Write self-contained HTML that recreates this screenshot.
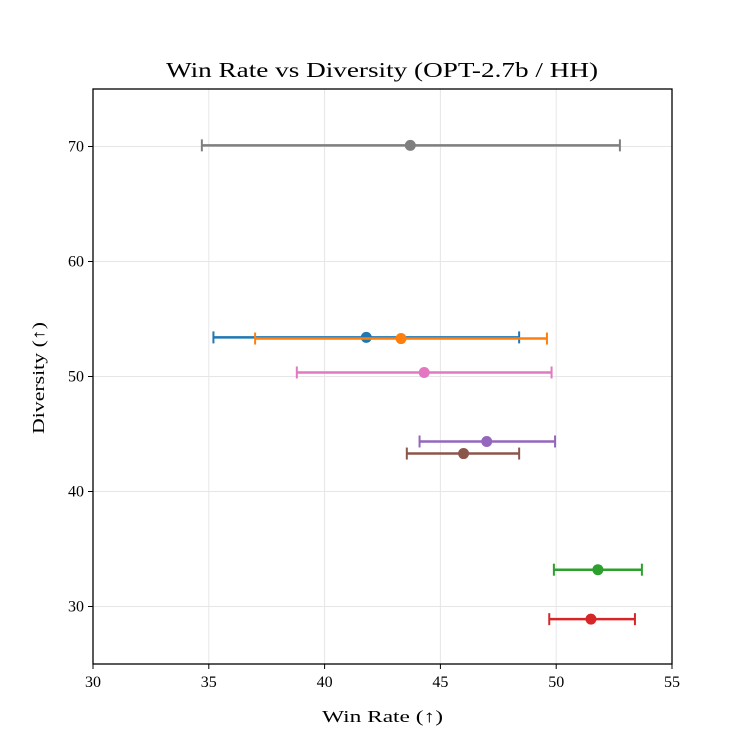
<!DOCTYPE html>
<html><head><meta charset="utf-8"><style>
body{margin:0;background:#fff;}
svg text{font-family:"Liberation Serif","DejaVu Serif",serif;fill:#000;}
</style></head><body>
<svg id="chart" width="747" height="747" xmlns="http://www.w3.org/2000/svg"></svg>
<script>
const labels=["gray","blue","orange","pink","purple","brown","green","red"];
const colors=["#7f7f7f","#1f77b4","#ff7f0e","#e377c2","#9467bd","#8c564b","#2ca02c","#d62728"];
const winRate=[43.7,41.8,43.3,44.3,47.0,46.0,51.8,51.5];
const winLow=[34.7,35.2,37.0,38.8,44.1,43.55,49.9,49.7];
const winHigh=[52.75,48.4,49.6,49.8,49.95,48.4,53.7,53.4];
const diversity=[70.1,53.4,53.3,50.35,44.35,43.3,33.2,28.9];
const xTicks=[30,35,40,45,50,55];
const yTicks=[30,40,50,60,70];
const L=93,R=672,T=89,B=664,x0=30,x1=55,y0=25,y1=75;
const sx=v=>L+(v-x0)/(x1-x0)*(R-L);
const sy=v=>B-(v-y0)/(y1-y0)*(B-T);
const svg=document.getElementById('chart');
const NS="http://www.w3.org/2000/svg";
function mk(t,a,p){const e=document.createElementNS(NS,t);for(const k in a)e.setAttribute(k,a[k]);(p||svg).appendChild(e);return e;}
xTicks.forEach(v=>{const g=mk('line',{x1:sx(v),x2:sx(v),y1:T,y2:B,stroke:'#e6e6e6','stroke-width':1});

});
yTicks.forEach(v=>{const g=mk('line',{x1:L,x2:R,y1:sy(v),y2:sy(v),stroke:'#e6e6e6','stroke-width':1});

});
labels.forEach((n,i)=>{
 const g=mk('g',{});
 
 
 const y=sy(diversity[i]),c=colors[i];
 mk('line',{x1:sx(winLow[i]),x2:sx(winHigh[i]),y1:y,y2:y,stroke:c,'stroke-width':2.5},g);
 mk('line',{x1:sx(winLow[i]),x2:sx(winLow[i]),y1:y-6,y2:y+6,stroke:c,'stroke-width':2},g);
 mk('line',{x1:sx(winHigh[i]),x2:sx(winHigh[i]),y1:y-6,y2:y+6,stroke:c,'stroke-width':2},g);
 const p=mk('circle',{cx:sx(winRate[i]),cy:y,r:5.5,fill:c},g);
 
 
});
const f=mk('rect',{x:L,y:T,width:R-L,height:B-T,fill:'none',stroke:'#000','stroke-width':1.3});


xTicks.forEach(v=>{mk('line',{x1:sx(v),x2:sx(v),y1:B,y2:B+5,stroke:'#000'});
const t=mk('text',{x:sx(v),y:B+23,'text-anchor':'middle','font-size':16});t.textContent=v;

});
yTicks.forEach(v=>{mk('line',{x1:L-5,x2:L,y1:sy(v),y2:sy(v),stroke:'#000'});
const t=mk('text',{x:L-9,y:sy(v)+5,'text-anchor':'end','font-size':16});t.textContent=v;

});
const ti=mk('text',{x:166,y:77,'font-size':21,textLength:432,lengthAdjust:'spacingAndGlyphs'});ti.textContent='Win Rate vs Diversity (OPT-2.7b / HH)';


const xl=mk('text',{x:322,y:722,'font-size':17,textLength:121,lengthAdjust:'spacingAndGlyphs'});xl.textContent='Win Rate (↑)';


const yl=mk('text',{x:0,y:0,'font-size':17,textLength:112,lengthAdjust:'spacingAndGlyphs',transform:'translate(44,434) rotate(-90)'});yl.textContent='Diversity (↑)';


</script>
</body></html>
